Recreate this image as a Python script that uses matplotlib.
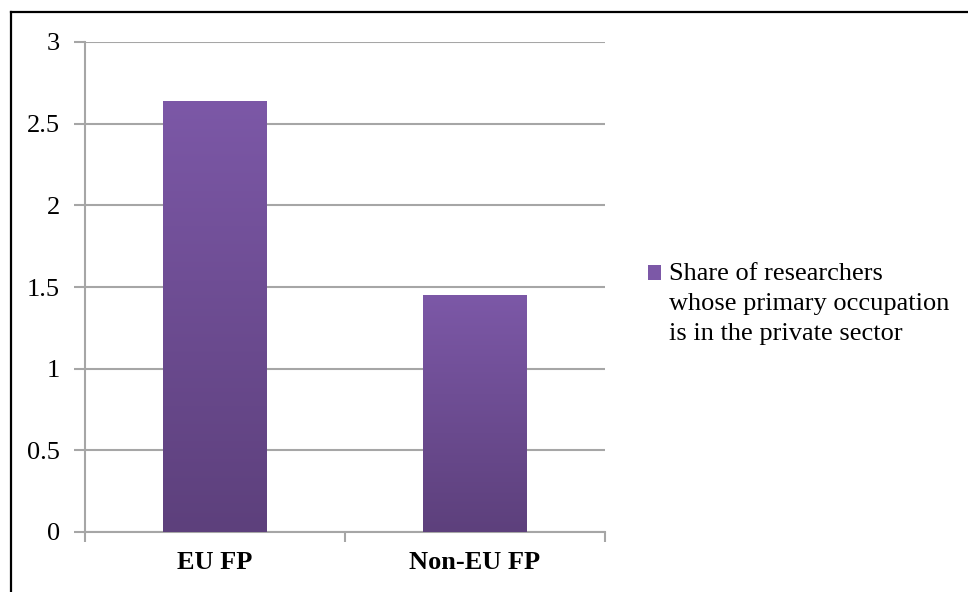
import numpy as np
import matplotlib
matplotlib.use("Agg")
import matplotlib.pyplot as plt
from matplotlib.colors import LinearSegmentedColormap
from matplotlib.patches import Patch, Rectangle
from matplotlib.lines import Line2D
from matplotlib.legend_handler import HandlerPatch

# Data
categories = ["EU FP", "Non-EU FP"]
values = [2.64, 1.45]
series_label = "Share of researchers\nwhose primary occupation\nis in the private sector"
y_ticks = [0, 0.5, 1, 1.5, 2, 2.5, 3]
y_tick_labels = ["0", "0.5", "1", "1.5", "2", "2.5", "3"]

plt.rcParams["font.family"] = ["Liberation Serif", "DejaVu Serif"]

top_col = "#7c58a7"
bottom_col = "#5d407c"
grid_col = "#a6a6a6"
cmap = LinearSegmentedColormap.from_list("bar", [bottom_col, top_col])

fig = plt.figure(figsize=(9.68, 5.92), dpi=100)
ax = fig.add_axes([85 / 968, 60 / 592, 520 / 968, 490 / 592])

x = np.arange(len(categories))
bars = ax.bar(x, values, width=0.4, color=top_col, zorder=3)

# vertical gradient inside each bar
grad = np.linspace(0, 1, 256).reshape(-1, 1)
for b in bars:
    x0, w, h = b.get_x(), b.get_width(), b.get_height()
    im = ax.imshow(grad, cmap=cmap, origin="lower", aspect="auto",
                   extent=(x0, x0 + w, 0, h), zorder=4)
    im.set_clip_path(b)

ax.set_xlim(-0.5, len(categories) - 0.5)
ax.set_ylim(0, 3)
ax.set_yticks(y_ticks)
ax.set_yticklabels(y_tick_labels, fontsize=19)
ax.set_xticks(x)
ax.set_xticklabels(categories, fontsize=19, fontweight="bold")
ax.tick_params(axis="x", length=0, pad=14)
ax.tick_params(axis="y", length=8, width=1.5, color=grid_col, pad=10)

# category boundary ticks on x axis
ax.set_xticks(np.arange(-0.5, len(categories)), minor=True)
ax.tick_params(axis="x", which="minor", length=7, width=1.5, color=grid_col)

ax.yaxis.grid(True, color=grid_col, linewidth=1.5, zorder=0)
ax.set_axisbelow(True)
for side in ["top", "right"]:
    ax.spines[side].set_visible(False)
for side in ["left", "bottom"]:
    ax.spines[side].set_color(grid_col)
    ax.spines[side].set_linewidth(1.5)


# legend square sits next to the first line of the label
def top_square(legend, orig_handle, xdescent, ydescent, width, height, fontsize):
    return Rectangle((-xdescent, -ydescent + 22.0), width, height)


handle = Patch(facecolor=top_col, edgecolor="none")
leg = fig.legend([handle], [series_label], loc="center left",
                 bbox_to_anchor=(637 / 968, 1 - 304 / 592), frameon=False,
                 fontsize=19, handlelength=0.52, handleheight=0.52,
                 handletextpad=0.3, borderaxespad=0,
                 handler_map={Patch: HandlerPatch(patch_func=top_square)})
leg.get_texts()[0].set_linespacing(1.45)

# outer frame (left and top edges visible)
fig.add_artist(Line2D([10.5 / 968, 10.5 / 968], [0, 1 - 12 / 592],
                      transform=fig.transFigure, color="black", linewidth=1.6))
fig.add_artist(Line2D([10.5 / 968, 1], [1 - 12 / 592, 1 - 12 / 592],
                      transform=fig.transFigure, color="black", linewidth=1.6))

fig.savefig("out.png", dpi=100, facecolor="white")
